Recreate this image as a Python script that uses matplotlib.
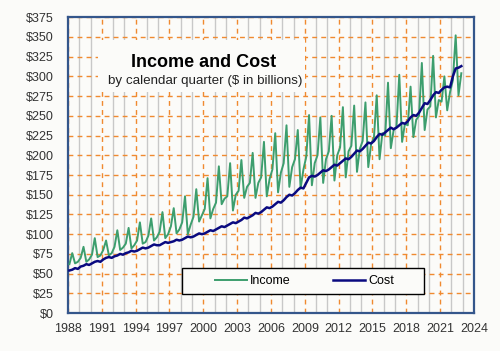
import numpy as np
import matplotlib.pyplot as plt
from matplotlib.patches import Rectangle
from matplotlib.ticker import MultipleLocator, FixedLocator, FuncFormatter

plt.rcParams['font.family'] = ['Liberation Sans', 'DejaVu Sans']

# quarterly values, 1988 Q1 .. 2022 Q4 (Q1, Q2, Q3, Q4 per year)
years = list(range(1988, 2023))
xticks = list(range(1988, 2025, 3))

income = [
    62, 76, 63, 65,
    70, 84, 65, 68,
    74, 95, 71, 73,
    80, 92, 73, 76,
    84, 105, 80, 83,
    88, 108, 82, 86,
    92, 115, 88, 90,
    98, 120, 92, 96,
    103, 128, 95, 100,
    110, 133, 101, 106,
    115, 148, 100, 112,
    122, 157, 116, 124,
    132, 171, 120, 132,
    140, 186, 138, 145,
    148, 190, 130, 150,
    155, 194, 146, 160,
    165, 203, 146, 165,
    172, 217, 148, 170,
    182, 228, 153, 178,
    190, 238, 160, 185,
    195, 232, 158, 182,
    198, 251, 162, 190,
    200, 248, 165, 195,
    205, 250, 168, 200,
    210, 261, 172, 205,
    212, 263, 179, 208,
    218, 267, 185, 214,
    222, 276, 195, 228,
    225, 292, 209, 232,
    236, 302, 217, 240,
    238, 287, 223, 245,
    250, 317, 232, 258,
    262, 326, 248, 270,
    268, 300, 257, 280,
    295, 352, 276, 304,
]

cost = [
    54, 55, 57, 56,
    59, 60, 62, 61,
    63, 65, 66, 65,
    68, 70, 71, 70,
    72, 73, 75, 74,
    76, 77, 79, 78,
    79, 81, 83, 82,
    83, 85, 87, 86,
    86, 88, 90, 89,
    90, 91, 93, 92,
    93, 95, 97, 96,
    97, 99, 101, 100,
    101, 103, 105, 104,
    106, 108, 110, 109,
    111, 113, 115, 114,
    116, 118, 121, 120,
    122, 124, 127, 126,
    128, 131, 134, 133,
    135, 138, 141, 140,
    143, 147, 150, 149,
    152, 156, 159, 158,
    165, 172, 174, 173,
    175, 178, 181, 180,
    182, 185, 188, 187,
    190, 193, 196, 195,
    198, 202, 206, 205,
    208, 212, 216, 215,
    218, 223, 227, 226,
    229, 232, 235, 233,
    235, 238, 241, 240,
    243, 248, 251, 250,
    254, 260, 266, 265,
    270, 276, 280, 279,
    283, 286, 287, 286,
    300, 310, 311, 313,
]

x = [y + (q + 0.5) / 4 for y in years for q in range(4)]

bg = '#fbfbf9'
orange = '#f08a30'

fig = plt.figure(figsize=(5, 3.51), dpi=100, facecolor=bg)
ax = fig.add_axes([0.136, 0.108, 0.812, 0.843], facecolor=bg)

ax.set_xlim(1988, 2024)
ax.set_ylim(0, 375)
ax.xaxis.set_major_locator(FixedLocator(xticks))
ax.xaxis.set_minor_locator(MultipleLocator(1))
ax.yaxis.set_major_locator(MultipleLocator(25))
ax.yaxis.set_major_formatter(FuncFormatter(lambda v, p: '$%d' % v))

ax.grid(which='minor', axis='x', color='#c8c8c8', lw=1, ls='-', zorder=0)
ax.grid(which='major', axis='x', color=orange, lw=1, ls=(0, (3.5, 3)), zorder=0)
ax.grid(which='major', axis='y', color=orange, lw=1, ls=(0, (3.5, 3)), zorder=0)
ax.set_axisbelow(True)

ax.tick_params(which='both', length=0, labelsize=9, colors='#333333')
ax.tick_params(axis='y', pad=10)
ax.tick_params(axis='x', pad=7)

for s in ax.spines.values():
    s.set_color('#34568b')
    s.set_linewidth(1.6)

ax.plot(x, income, color='#3d9e6e', lw=1.4, label='Income', zorder=3)
ax.plot(x, cost, color='#0a0a80', lw=1.8, label='Cost', zorder=4)

# title box
ax.add_patch(Rectangle((0.074, 0.747), 0.51, 0.175, transform=ax.transAxes,
                       facecolor=bg, edgecolor='none', zorder=1))
ax.text(0.333, 0.848, 'Income and Cost', transform=ax.transAxes, ha='center',
        va='center', fontsize=13, fontweight='bold', zorder=5)
ax.text(0.338, 0.785, 'by calendar quarter ($ in billions)', transform=ax.transAxes,
        ha='center', va='center', fontsize=9.6, color='#222222', zorder=5)

# legend box
ax.add_patch(Rectangle((0.281, 0.064), 0.596, 0.088, transform=ax.transAxes,
                       facecolor=bg, edgecolor='black', lw=1, zorder=5))
ax.legend(loc='center', bbox_to_anchor=(0.582, 0.108), ncol=2, frameon=False,
          fontsize=9, handlelength=2.6, handletextpad=0.2, columnspacing=3.4)

fig.savefig('out.png', dpi=100, facecolor=bg)
